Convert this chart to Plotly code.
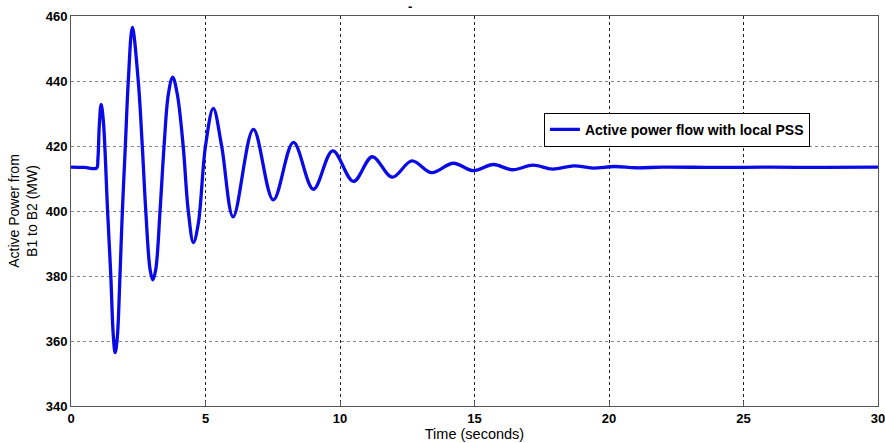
import plotly.graph_objects as go

# Time (s) and active power (MW)
time_s = [0, 0.5, 0.95, 1.0, 1.05, 1.12, 1.2, 1.36, 1.48, 1.57, 1.64, 1.72, 1.82, 1.91,
          2.02, 2.13, 2.28, 2.5, 2.65, 2.78, 2.94, 3.04, 3.15, 3.31, 3.46, 3.62, 3.78,
          3.95, 4.17, 4.36, 4.55, 4.73, 5.0, 5.29, 5.6, 6.03, 6.78, 7.52, 8.27, 9.01,
          9.73, 10.5, 11.2, 11.94, 12.67, 13.41, 14.21, 14.96, 15.70, 16.4, 17.18,
          17.9, 18.7, 19.4, 20.2, 21, 22, 24, 26, 28, 30]
power_mw = [413.5, 413.4, 413.2, 416, 426, 432.8, 428, 400, 380, 362, 356.4, 361, 380, 400,
            420, 440, 456.5, 440, 420, 400, 382, 378.8, 382, 400, 420, 436, 441.2,
            436, 420, 400, 390.3, 396, 420, 431.6, 420, 398.2, 425.1, 403.4, 421.1, 406.7,
            418.5, 409.1, 416.7, 410.4, 415.4, 411.8, 414.7, 412.4, 414.3, 412.7, 414.1,
            412.9, 413.9, 413.2, 413.7, 413.3, 413.5, 413.4, 413.5, 413.4, 413.5]

x_ticks = [0, 5, 10, 15, 20, 25, 30]
y_ticks = [340, 360, 380, 400, 420, 440, 460]

FONT = "Liberation Sans Narrow, Arial Narrow, Liberation Sans, Arial, sans-serif"

fig = go.Figure()
fig.add_trace(go.Scatter(
    x=time_s, y=power_mw, mode="lines",
    line=dict(color="#0a0ae6", width=3.3, shape="spline", smoothing=1.0),
    name="<b>Active power flow with local PSS</b>",
))

fig.update_layout(
    width=885, height=443,
    margin=dict(l=71, r=7, t=16, b=37),
    paper_bgcolor="white", plot_bgcolor="white",
    font=dict(family=FONT, color="black", size=13),
    showlegend=True,
    legend=dict(x=0.586, y=0.752, xanchor="left", yanchor="top",
                bgcolor="white", bordercolor="black", borderwidth=1,
                tracegroupgap=0, itemwidth=30,
                font=dict(family="Liberation Sans, Arial, sans-serif", size=14)),
    annotations=[dict(text="<b>-</b>", x=0.42, y=1.0, xref="paper", yref="paper",
                      xanchor="center", yanchor="bottom", showarrow=False,
                      font=dict(size=13))],
)

fig.update_xaxes(
    range=[0, 30], tickvals=x_ticks, ticktext=[f"<b>{v}</b>" for v in x_ticks],
    ticklabeloverflow="allow", automargin=False,
    showgrid=True, gridcolor="#222", griddash="dot", gridwidth=1,
    showline=True, linecolor="#555", linewidth=1, mirror=True,
    ticks="inside", ticklen=5, tickcolor="#555",
    zeroline=False,
    title=dict(text="Time (seconds)", standoff=1, font=dict(size=14.5)),
)
fig.update_yaxes(
    range=[340, 460], tickvals=y_ticks, ticktext=[f"<b>{v}</b>" for v in y_ticks],
    showgrid=True, gridcolor="#888", griddash="dot", gridwidth=1,
    showline=True, linecolor="#555", linewidth=1, mirror=True,
    ticks="", zeroline=False, automargin=False,
    title=dict(text="Active Power from<br>B1 to B2 (MW)", standoff=4, font=dict(size=14)),
)

fig.write_html("out.html")
